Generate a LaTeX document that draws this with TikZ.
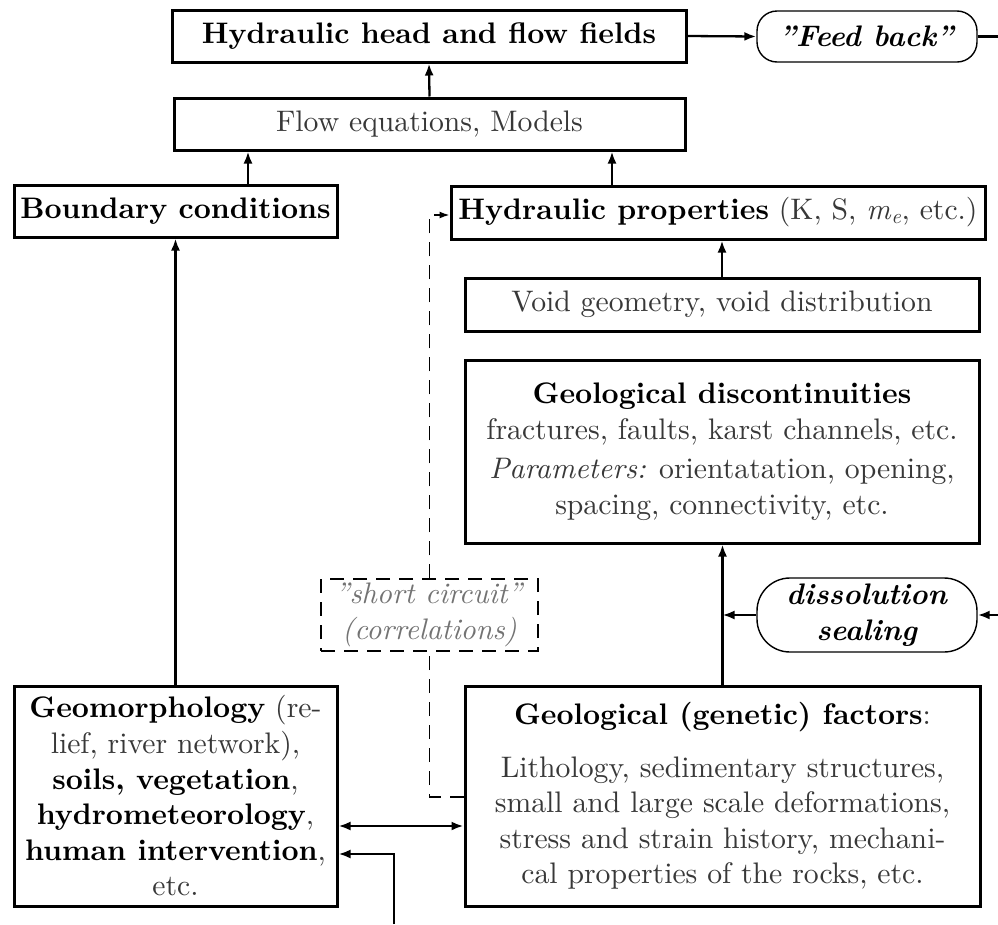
\documentclass[tikz,border=0pt]{standalone}
\usepackage{fontspec}
\setmainfont{lmroman10-regular.otf}[BoldFont=lmroman10-bold.otf,ItalicFont=lmroman10-italic.otf,BoldItalicFont=lmroman10-bolditalic.otf]
\usetikzlibrary{arrows.meta}
\newcommand{\bk}[1]{\textcolor{black}{\textbf{#1}}}
\tikzset{
  txt/.style={font=\fontsize{29.7}{35.6}\selectfont, text=black!78},
  box/.style={txt, draw=black, line width=3pt, inner sep=0pt, align=center},
  rbox/.style={txt, draw=black, line width=1.4pt, inner sep=0pt, align=center},
  dbox/.style={txt, draw=black, line width=1.5pt, dash pattern=on 14pt off 9pt, inner sep=0pt, align=center, text=black!55},
  bigtip/.tip={Latex[length=12pt,width=9pt]},
  smalltip/.tip={Latex[length=10pt,width=7pt]},
  arr/.style={line width=2.3pt, -bigtip},
  plain/.style={line width=2.3pt},
  dsh/.style={line width=1.5pt, dash pattern=on 14pt off 9pt},
}
\begin{document}
\begin{tikzpicture}[x=1pt,y=-1pt]
\useasboundingbox (0,0) rectangle (998,924);
% nodes
\node[box, minimum width=514pt, minimum height=52pt] (head) at (429,36) {\bk{Hydraulic head and flow fields}};
\node[rbox, rounded corners=20pt, minimum width=220pt, minimum height=51pt] (feed) at (867,36.5) {\bk{\textit{''Feed back''}}};
\node[box, minimum width=511pt, minimum height=52pt] (flow) at (429.5,124) {Flow equations, Models};
\node[box, minimum width=323pt, minimum height=52pt] (bc) at (175.5,211) {\bk{Boundary conditions}};
\node[box, minimum width=534pt, minimum height=53pt] (hp) at (718,212.5) {\bk{Hydraulic properties} (K, S, \textit{m}\textsubscript{\textit{e}}, etc.)};
\node[box, minimum width=514pt, minimum height=53pt] (void) at (722,304.5) {Void geometry, void distribution};
\node[box, minimum width=514pt, minimum height=183pt] (disc) at (722,451.5) {\bk{Geological discontinuities}\\
fractures, faults, karst channels, etc.\\[4pt]
\textit{Parameters:} orientatation, opening,\\
spacing, connectivity, etc.};
\node[rbox, rounded corners=33pt, minimum width=220pt, minimum height=74pt] (diss) at (867,615) {\bk{\textit{dissolution}}\\\bk{\textit{sealing}}};
\node[dbox, minimum width=217pt, minimum height=72pt] (sc) at (429.5,615) {\textit{''short circuit''}\\\textit{(correlations)}};
\node[box, minimum width=323pt, minimum height=220pt] (geo) at (175.5,796) {\bk{Geomorphology} (re-\\
lief, river network),\\
\bk{soils, vegetation},\\
\bk{hydrometeorology},\\
\bk{human intervention},\\
etc.};
\node[box, minimum width=515pt, minimum height=220pt] (gf) at (722.5,796) {\bk{Geological (genetic) factors}:\\[17pt]
Lithology, sedimentary structures,\\
small and large scale deformations,\\
stress and strain history, mechani-\\
cal properties of the rocks, etc.};
% free ends
\coordinate (fbend) at (998,36.5);
\coordinate (dright) at (998,615);
\coordinate (bot) at (394,924);
% connectors
\draw[arr] (flow.north) -- (head.south);
\draw[arr] ([xshift=72.5pt]bc.north) -- ([xshift=72.5pt]bc.north |- flow.south);
\draw[arr] ([xshift=-106pt]hp.north) -- ([xshift=-106pt]hp.north |- flow.south);
\draw[arr] (void.north) -- (void.north |- hp.south);
\draw[arr] (gf.north) -- (gf.north |- disc.south);
\draw[arr] (geo.north) -- (bc.south);
\draw[arr] (head.east) -- (feed.west);
\draw[plain] (feed.east) -- (fbend);
\draw[arr] (dright) -- (diss.east);
\draw[arr] (diss.west) -- (diss.west -| gf.north);
\draw[dsh] ([yshift=-1pt]gf.west) -| (sc.south);
\draw[dsh, -smalltip] (sc.north) |- ([yshift=-2.5pt]hp.west);
\draw[line width=2.3pt, bigtip-bigtip] ([yshift=-30pt]geo.east) -- ([yshift=-30pt]gf.west);
\draw[arr] (bot) |- ([yshift=-58pt]geo.east);
\end{tikzpicture}
\end{document}
